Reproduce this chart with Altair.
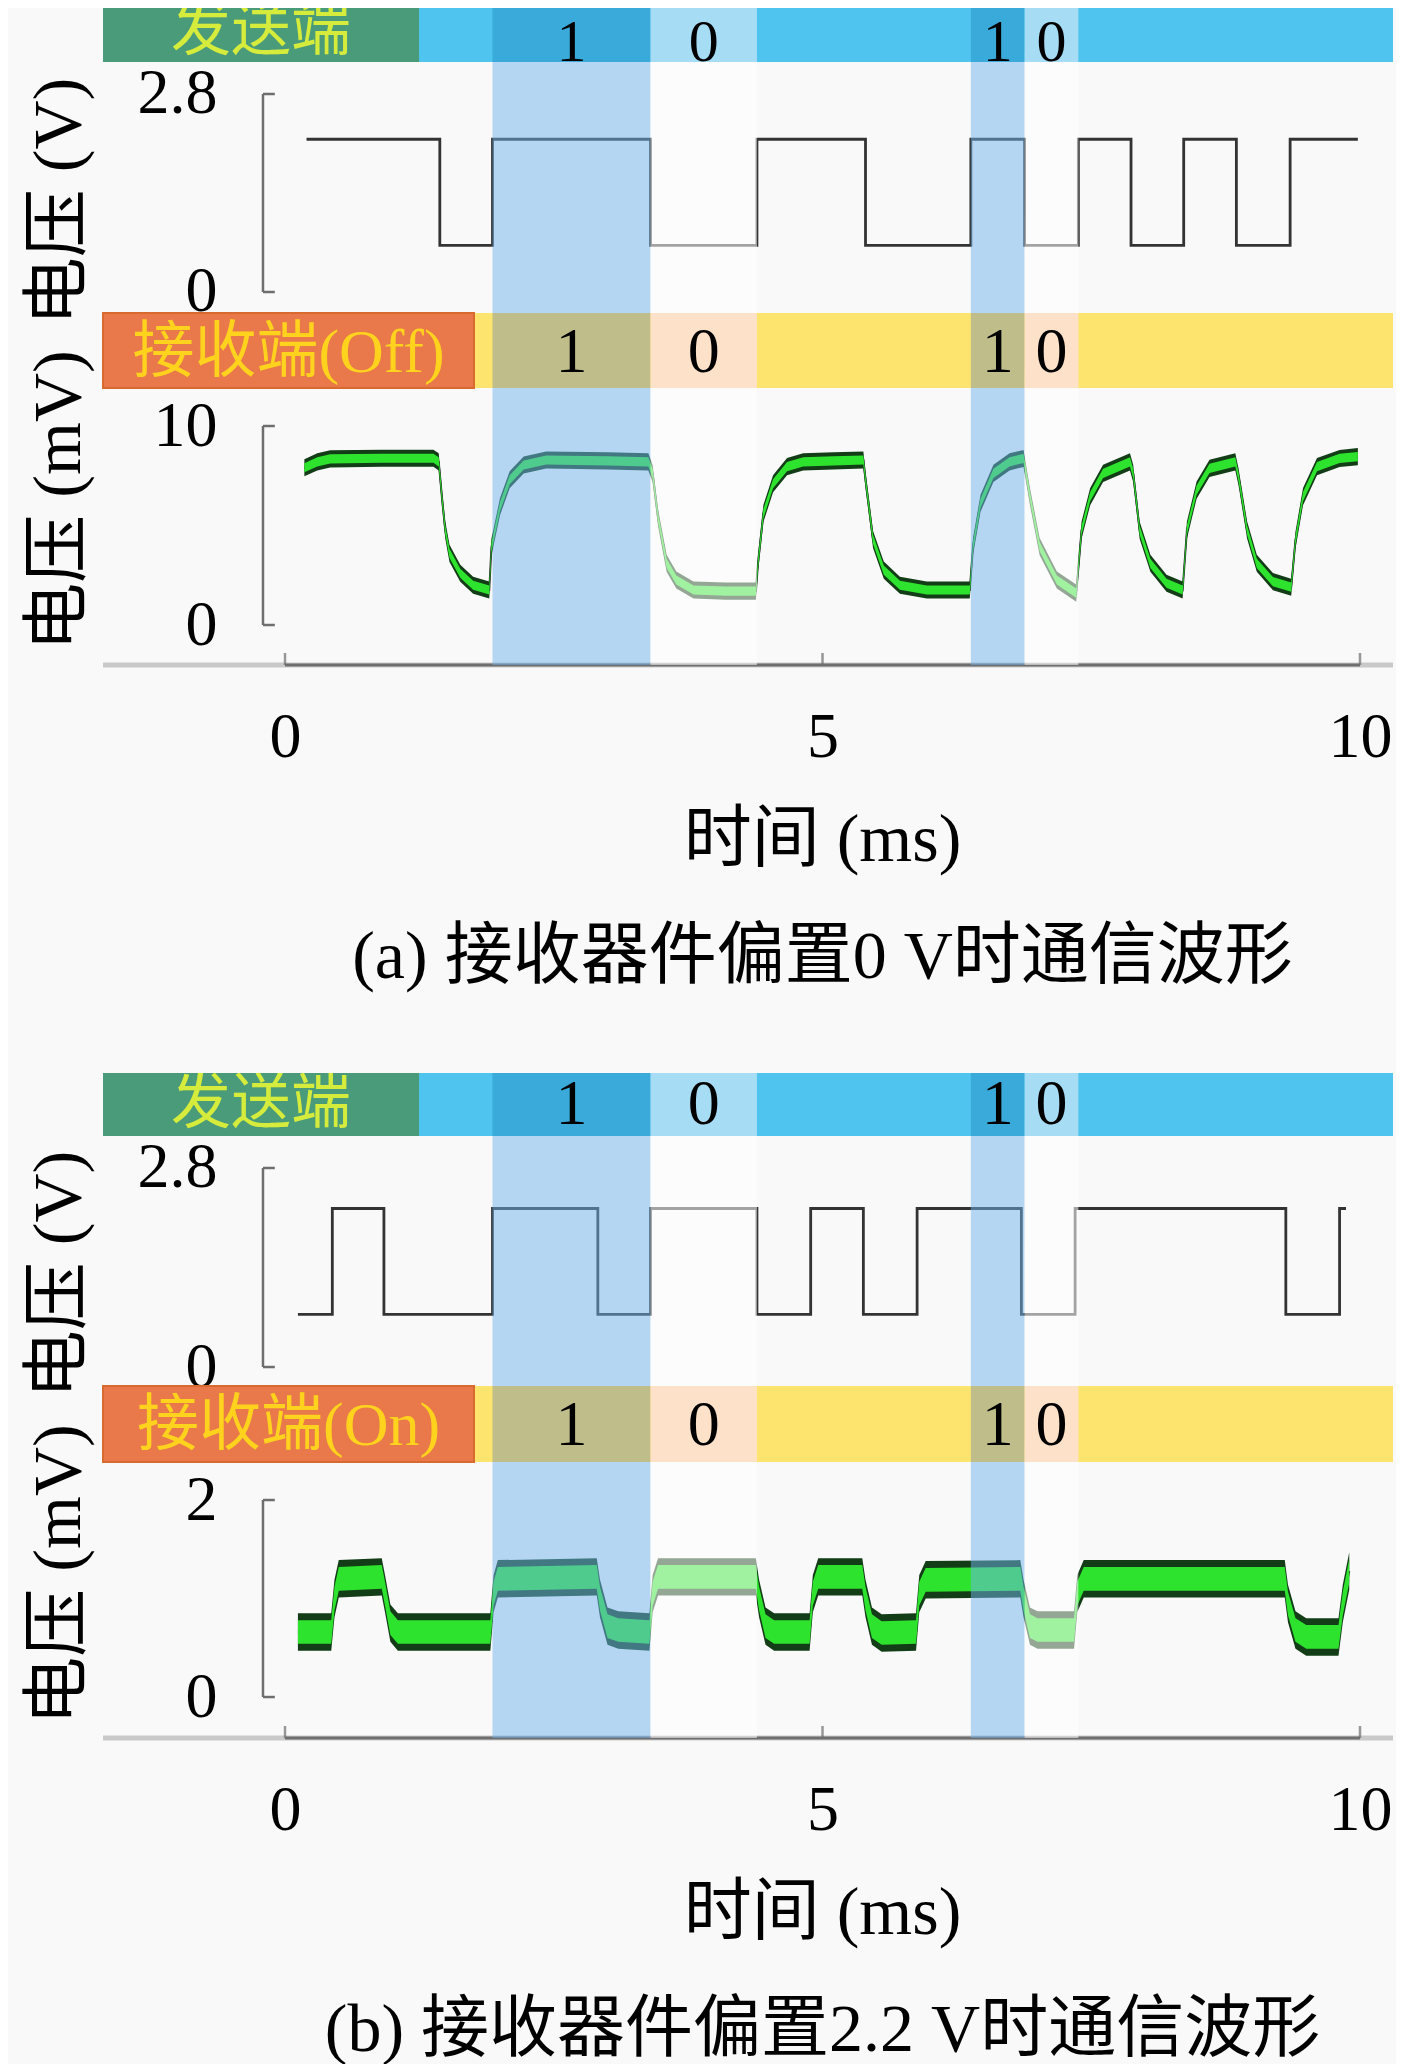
import altair as alt
import pandas as pd

# ---------------- data ----------------
X_MIN, X_MAX = -2.577, 10.307          # ms, full strip width
BAND_LEFT = -1.693                      # left end of the coloured strips
TX_LABEL_END = 1.247                    # end of the green "发送端" box
RX_LABEL_END = 1.758                    # end of the orange receiver box
AXIS_T = -0.205                         # position of the detached y axis
AXIS_TICK_END = -0.095

ONE_START = [1.93, 6.38]
ONE_END = [3.40, 6.88]
ZERO_START = [3.40, 6.88]
ZERO_END = [4.39, 7.38]

X_TICKS = [0, 5, 10]

# transmitter (a)
TX_A_T = [0.20, 1.44, 1.93, 3.40, 4.39, 5.40, 6.38, 6.88, 7.38, 7.87, 8.36, 8.85, 9.35, 9.98]
TX_A_V = [2.16, 0.66, 2.16, 0.66, 2.16, 0.66, 2.16, 0.66, 2.16, 0.66, 2.16, 0.66, 2.16, 2.16]

# receiver (a), mV
RX_A_T = [0.18, 0.30, 0.42, 0.90, 1.38, 1.43, 1.46, 1.49, 1.53, 1.63, 1.75, 1.90,
          1.92, 2.00, 2.09, 2.22, 2.43, 3.00, 3.38,
          3.42, 3.47, 3.55, 3.64, 3.80, 4.10, 4.38,
          4.40, 4.45, 4.54, 4.67, 4.82, 5.10, 5.38,
          5.40, 5.47, 5.57, 5.72, 5.97, 6.37,
          6.40, 6.47, 6.59, 6.74, 6.87,
          6.93, 7.02, 7.18, 7.36,
          7.41, 7.49, 7.61, 7.86,
          7.89, 7.95, 8.05, 8.20, 8.35,
          8.39, 8.48, 8.60, 8.84,
          8.87, 8.95, 9.04, 9.19, 9.36,
          9.40, 9.47, 9.60, 9.81, 9.98]
RX_A_V = [7.9, 8.2, 8.35, 8.38, 8.38, 8.2, 6.4, 4.8, 3.6, 2.6, 2.0, 1.76,
          3.9, 5.95, 7.3, 8.04, 8.29, 8.25, 8.2,
          7.6, 5.4, 3.1, 2.26, 1.76, 1.7, 1.7,
          3.1, 5.6, 7.1, 7.96, 8.2, 8.25, 8.29,
          7.3, 4.3, 2.76, 2.0, 1.76, 1.76,
          3.94, 6.12, 7.62, 8.2, 8.37,
          6.45, 3.94, 2.26, 1.6,
          4.77, 6.45, 7.62, 8.2,
          7.62, 4.77, 3.1, 2.1, 1.76,
          4.77, 6.78, 7.87, 8.2,
          7.45, 4.77, 3.1, 2.18, 1.9,
          4.27, 6.45, 7.96, 8.37, 8.46]

# transmitter (b)
TX_B_T = [0.12, 0.44, 0.92, 1.93, 2.91, 3.40, 4.39, 4.89, 5.38, 5.88, 6.85, 7.35, 9.31, 9.81, 9.87]
TX_B_V = [0.74, 2.23, 0.74, 2.23, 0.74, 2.23, 0.74, 2.23, 0.74, 2.23, 0.74, 2.23, 0.74, 2.23, 2.23]

# receiver (b), mV
RX_B_T = [0.12, 0.43, 0.46, 0.50, 0.90, 0.93, 0.98, 1.05, 1.91, 1.94, 1.98,
          2.90, 2.93, 3.00, 3.10, 3.39, 3.42, 3.47, 4.38, 4.41, 4.47, 4.55,
          4.88, 4.91, 4.96, 5.37, 5.40, 5.46, 5.55, 5.87, 5.90, 5.96,
          6.84, 6.87, 6.93, 7.00, 7.34, 7.37, 7.43, 9.30, 9.33, 9.40, 9.50,
          9.80, 9.84, 9.90]
RX_B_V = [0.66, 0.66, 1.00, 1.20, 1.22, 1.05, 0.75, 0.66, 0.66, 1.05, 1.20,
          1.22, 1.00, 0.72, 0.68, 0.66, 1.05, 1.22, 1.22, 1.00, 0.72, 0.66,
          0.66, 1.05, 1.22, 1.22, 1.00, 0.72, 0.65, 0.66, 1.05, 1.19,
          1.20, 1.00, 0.72, 0.68, 0.68, 1.05, 1.20, 1.20, 0.95, 0.68, 0.61,
          0.61, 0.95, 1.28]

# ---------------- style ----------------
W = 1385
BG = "#f9f9f9"
FONT_SERIF = "Liberation Serif"
FONT_MIX = "'Liberation Serif', 'Noto Sans CJK SC', sans-serif"
FS = 64
TFS = 68
BLUE_OVER = "#6fb4ee"
AXIS_GRAY = "#6e6e6e"


def xenc(field, axis=None):
    return alt.X(field, type="quantitative",
                 scale=alt.Scale(domain=[X_MIN, X_MAX], nice=False, zero=False),
                 axis=axis)


def band(height, label, label_end, base, box, box_stroke, txt_color,
         one_color, zero_color, label_fs, digit_fs, label_y, digit_y):
    seg = pd.DataFrame({
        "s": [BAND_LEFT] + ONE_START + ZERO_START,
        "e": [X_MAX] + ONE_END + ZERO_END,
        "c": [base] + [one_color] * len(ONE_START) + [zero_color] * len(ZERO_START),
    })
    boxdf = pd.DataFrame({"s": [BAND_LEFT], "e": [label_end], "c": [box]})
    lab = pd.DataFrame({"t": [(BAND_LEFT + label_end) / 2], "y": [label_y], "txt": [label]})
    digits = pd.DataFrame({
        "t": [(a + b) / 2 for a, b in zip(ONE_START, ONE_END)] +
             [(a + b) / 2 for a, b in zip(ZERO_START, ZERO_END)],
        "y": [digit_y] * (len(ONE_START) + len(ZERO_START)),
        "txt": ["1"] * len(ONE_START) + ["0"] * len(ZERO_START),
    })
    yb = alt.Y("y:Q", scale=alt.Scale(domain=[0, 1]), axis=None)
    l1 = alt.Chart(seg).mark_rect().encode(
        x=xenc("s"), x2="e", color=alt.Color("c:N", scale=None))
    box_kwargs = {}
    if box_stroke:
        box_kwargs = dict(stroke=box_stroke, strokeWidth=2)
    l2 = alt.Chart(boxdf).mark_rect(**box_kwargs).encode(
        x=xenc("s"), x2="e", color=alt.Color("c:N", scale=None))
    l3 = alt.Chart(lab).mark_text(font=FONT_MIX, fontSize=label_fs, color=txt_color,
                                  baseline="middle", align="center", clip=True).encode(
        x=xenc("t"), y=yb, text="txt:N")
    l4 = alt.Chart(digits).mark_text(font=FONT_SERIF, fontSize=digit_fs, color="black",
                                     baseline="middle", align="center", clip=True).encode(
        x=xenc("t"), y=yb, text="txt:N")
    return alt.layer(l1, l2, l3, l4).properties(width=W, height=height)


def y_axis(values, fmt, title, title_y):
    return alt.Axis(values=values, format=fmt, offset=-255, domain=False, ticks=False,
                    tickSize=0, grid=False, labelPadding=46, labelFont=FONT_SERIF,
                    labelFontSize=FS, labelColor="black", labelFlush=False,
                    title=title, titleFont=FONT_MIX, titleFontSize=TFS,
                    titleFontWeight="normal", titleColor="black", titleX=-204,
                    titleY=title_y, titleAngle=270, titleBaseline="middle",
                    titleAlign="center")


def overlays(xax):
    ones = pd.DataFrame({"s": ONE_START, "e": ONE_END})
    zeros = pd.DataFrame({"s": ZERO_START, "e": ZERO_END})
    o1 = alt.Chart(ones).mark_rect(color=BLUE_OVER, opacity=0.5).encode(
        x=xenc("s", xax), x2="e")
    o2 = alt.Chart(zeros).mark_rect(color="white", opacity=0.55).encode(
        x=xenc("s", xax), x2="e")
    return [o1, o2]


def y_axis_rules(yenc, top, xax):
    line = pd.DataFrame({"t": [AXIS_T], "y0": [0.0], "y1": [top]})
    ticks = pd.DataFrame({"t0": [AXIS_T, AXIS_T], "t1": [AXIS_TICK_END, AXIS_TICK_END],
                          "y0": [0.0, top]})
    r1 = alt.Chart(line).mark_rule(color=AXIS_GRAY, strokeWidth=2.5).encode(
        x=xenc("t", xax), y=yenc("y0"), y2="y1")
    r2 = alt.Chart(ticks).mark_rule(color=AXIS_GRAY, strokeWidth=2.5).encode(
        x=xenc("t0", xax), x2="t1", y=yenc("y0"))
    return [r1, r2]


def tx_chart(height, dom, top, T, V, title_y):
    ax = y_axis([0, top], ".2~f", "电压 (V)", title_y)

    def yenc(f):
        return alt.Y(f, type="quantitative",
                     scale=alt.Scale(domain=dom, nice=False, zero=False), axis=ax)

    df = pd.DataFrame({"t": T, "v": V})
    line = alt.Chart(df).mark_line(interpolate="step-after", color="#333333",
                                   strokeWidth=2.8).encode(x=xenc("t"), y=yenc("v"))
    layers = y_axis_rules(yenc, top, None) + [line] + overlays(None)
    return alt.layer(*layers).properties(width=W, height=height)


def rx_chart(height, dom, top, T, V, d_out, d_in, title_y, caption):
    ax = y_axis([0, top], ".2~f", "电压 (mV)", title_y)
    xax = alt.Axis(values=X_TICKS, domain=False, ticks=False, tickSize=0, grid=False,
                   labelPadding=72, labelBaseline="middle", labelFont=FONT_SERIF,
                   labelFontSize=FS, labelColor="black", labelFlush=False,
                   title=["时间 (ms)", caption], titleFont=FONT_MIX, titleFontSize=TFS,
                   titleFontWeight="normal", titleColor="black", titleX=814,
                   titleY=195, titleBaseline="alphabetic", titleLineHeight=117,
                   titleAlign="center")

    def yenc(f):
        return alt.Y(f, type="quantitative",
                     scale=alt.Scale(domain=dom, nice=False, zero=False), axis=ax)

    bottom = dom[0]
    full = pd.DataFrame({"a": [BAND_LEFT], "b": [X_MAX], "y": [bottom]})
    dark = pd.DataFrame({"a": [0], "b": [10], "y": [bottom]})
    tk = pd.DataFrame({"t": X_TICKS, "y": [bottom] * len(X_TICKS)})
    r_full = alt.Chart(full).mark_rule(color="#c9c9c9", strokeWidth=5).encode(
        x=xenc("a", xax), x2="b", y=yenc("y"))
    r_dark = alt.Chart(dark).mark_rule(color=AXIS_GRAY, strokeWidth=3).encode(
        x=xenc("a", xax), x2="b", y=yenc("y"))
    r_tk = alt.Chart(tk).mark_tick(orient="vertical", size=24, thickness=2.5,
                                   color=AXIS_GRAY, clip=True).encode(
        x=xenc("t", xax), y=yenc("y"))

    df = pd.DataFrame({"t": T, "v": V})
    base = alt.Chart(df)
    center = base.mark_line(color="#3c3c3c", strokeWidth=2).encode(
        x=xenc("t", xax), y=yenc("v"))
    outer = base.transform_calculate(
        lo=f"datum.v - {d_out}", hi=f"datum.v + {d_out}"
    ).mark_area(color="#123d16").encode(x=xenc("t", xax), y=yenc("lo:Q"), y2="hi:Q")
    inner = base.transform_calculate(
        lo=f"datum.v - {d_in}", hi=f"datum.v + {d_in}"
    ).mark_area(color="#2ee32e").encode(x=xenc("t", xax), y=yenc("lo:Q"), y2="hi:Q")

    layers = (y_axis_rules(yenc, top, xax) + [r_full, r_dark, r_tk, center, outer, inner]
              + overlays(xax))
    return alt.layer(*layers).properties(width=W, height=height)


def spacer(height):
    df = pd.DataFrame({"s": [0], "e": [1]})
    return alt.Chart(df).mark_rect(opacity=0).encode(x=xenc("s"), x2="e").properties(
        width=W, height=height)


def tx_band(label_fs, digit_fs, label_y, digit_y):
    return dict(label="发送端", label_end=TX_LABEL_END, base="#4fc4ef", box="#4a9b7a",
                box_stroke=None, txt_color="#d6ec3c", one_color="#39aad9",
                zero_color="#a7dcf5", label_fs=label_fs, digit_fs=digit_fs,
                label_y=label_y, digit_y=digit_y)


def rx_band(label):
    return dict(label=label, label_end=RX_LABEL_END, base="#fde46f", box="#e9784b",
                box_stroke="#d8692f", txt_color="#ffd21e", one_color="#bfbe8b",
                zero_color="#fde1c8", label_fs=62, digit_fs=FS, label_y=0.47,
                digit_y=0.47)


charts = [
    band(54, **tx_band(60, 60, 0.55, 0.36)),
    tx_chart(251, [-0.297, 3.2525], 2.8, TX_A_T, TX_A_V, 139),
    band(75, **rx_band("接收端(Off)")),
    rx_chart(277, [-2.01, 11.91], 10, RX_A_T, RX_A_V, 0.43, 0.23, 112,
             "(a) 接收器件偏置0 V时通信波形"),
    spacer(408),
    band(63, **tx_band(60, FS, 0.5, 0.5)),
    tx_chart(250, [-0.267, 3.25], 2.8, TX_B_T, TX_B_V, 138),
    band(76, **rx_band("接收端(On)")),
    rx_chart(276, [-0.416, 2.386], 2, RX_B_T, RX_B_V, 0.19, 0.12, 112,
             "(b) 接收器件偏置2.2 V时通信波形"),
]

chart = alt.vconcat(*charts, spacing=0, bounds="flush").properties(
    background=BG,
    padding={"left": 0, "top": 0, "right": 0, "bottom": 0},
).configure_view(stroke=None)

chart.save("out.html", embed_options={"renderer": "svg", "actions": False})
